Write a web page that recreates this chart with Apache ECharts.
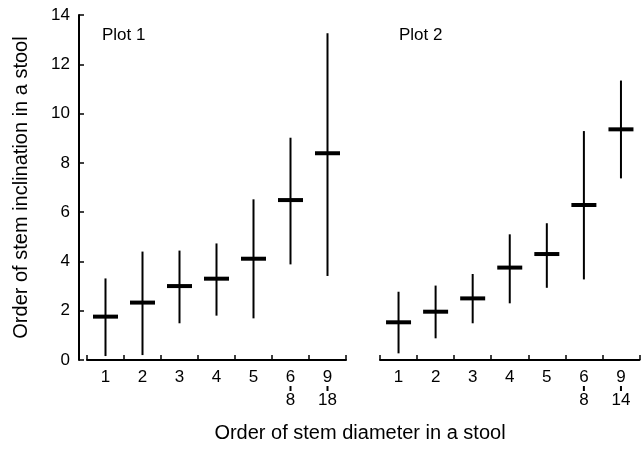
<!DOCTYPE html>
<html><head><meta charset="utf-8">
<script src="https://cdn.jsdelivr.net/npm/echarts@6/dist/echarts.min.js"></script>
<style>html,body{margin:0;padding:0;background:#fff}#c{width:644px;height:449px}</style>
</head><body><div id="c"></div>
<script>
var cats1 = ['1','2','3','4','5','6-8','9-18'];
var mean1 = [1.76,2.33,3.0,3.3,4.11,6.49,8.39];
var low1  = [0.16,0.2,1.49,1.8,1.69,3.88,3.41];
var high1 = [3.31,4.40,4.44,4.73,6.52,9.02,13.26];
var cats2 = ['1','2','3','4','5','6-8','9-14'];
var mean2 = [1.53,1.96,2.5,3.75,4.3,6.29,9.36];
var low2  = [0.27,0.88,1.49,2.3,2.93,3.27,7.37];
var high2 = [2.77,3.02,3.49,5.10,5.55,9.29,11.34];
var yTicks = [0,2,4,6,8,10,12,14];

var FONT = 'Liberation Sans';
function build(low, high, mean){
  return low.map(function(l,i){ return [i, l, high[i], mean[i]]; });
}
function renderItem(params, api){
  var i = api.value(0);
  var lo = api.coord([i, api.value(1)]);
  var hi = api.coord([i, api.value(2)]);
  var m = api.coord([i, api.value(3)]);
  return {type:'group', children:[
    {type:'line', shape:{x1:lo[0], y1:lo[1], x2:hi[0], y2:hi[1]}, style:{stroke:'#000', lineWidth:2}},
    {type:'rect', shape:{x:m[0]-12.5, y:m[1]-2, width:25, height:4}, style:{fill:'#000'}}
  ]};
}
function labFmt(v){
  var p = v.split('-');
  if (p.length === 2) return '{a|' + p[0] + '}\n{b|}\n{a|' + p[1] + '}';
  return '{a|' + v + '}';
}
function xAxis(idx, cats){
  return {
    type:'category', gridIndex:idx, data:cats, boundaryGap:true, offset:1,
    axisLine:{show:true, lineStyle:{color:'#000', width:2}},
    axisTick:{show:true, inside:true, length:5, interval:0, lineStyle:{color:'#000', width:1.5}},
    axisLabel:{margin:9, interval:0, formatter:labFmt, color:'#000', fontFamily:FONT,
      rich:{a:{fontSize:17, lineHeight:14, fontFamily:FONT, color:'#000'},
            b:{width:2, height:5, backgroundColor:'#000', lineHeight:9}}}
  };
}
var chart = echarts.init(document.getElementById('c'));
chart.setOption({
  animation:false,
  textStyle:{fontFamily:FONT},
  grid:[
    {left:87, top:15, width:259, height:345},
    {left:380, top:15, width:259.5, height:345}
  ],
  xAxis:[xAxis(0,cats1), xAxis(1,cats2)],
  yAxis:[
    {type:'value', gridIndex:0, min:yTicks[0], max:yTicks[yTicks.length-1], interval:2, offset:8,
     name:'Order of stem inclination in a stool', nameLocation:'middle', nameGap:48, nameRotate:90,
     nameTextStyle:{fontSize:20, color:'#000', fontFamily:FONT},
     axisLine:{show:true, lineStyle:{color:'#000', width:2}},
     axisTick:{show:true, inside:true, length:5, lineStyle:{color:'#000', width:1.5}},
     axisLabel:{fontSize:17, color:'#000', margin:9, fontFamily:FONT},
     splitLine:{show:false}},
    {type:'value', gridIndex:1, min:yTicks[0], max:yTicks[yTicks.length-1], interval:2, show:false, splitLine:{show:false}}
  ],
  graphic:[
    {type:'text', left:102, top:27, style:{text:'Plot 1', fontSize:17, fontFamily:FONT, fill:'#000'}},
    {type:'text', left:399, top:27, style:{text:'Plot 2', fontSize:17, fontFamily:FONT, fill:'#000'}},
    {type:'text', x:360, y:433, style:{text:'Order of stem diameter in a stool', fontSize:20, fontFamily:FONT, fill:'#000', align:'center', verticalAlign:'middle'}}
  ],
  series:[
    {type:'custom', xAxisIndex:0, yAxisIndex:0, renderItem:renderItem, data:build(low1,high1,mean1)},
    {type:'custom', xAxisIndex:1, yAxisIndex:1, renderItem:renderItem, data:build(low2,high2,mean2)}
  ]
});
</script></body></html>
